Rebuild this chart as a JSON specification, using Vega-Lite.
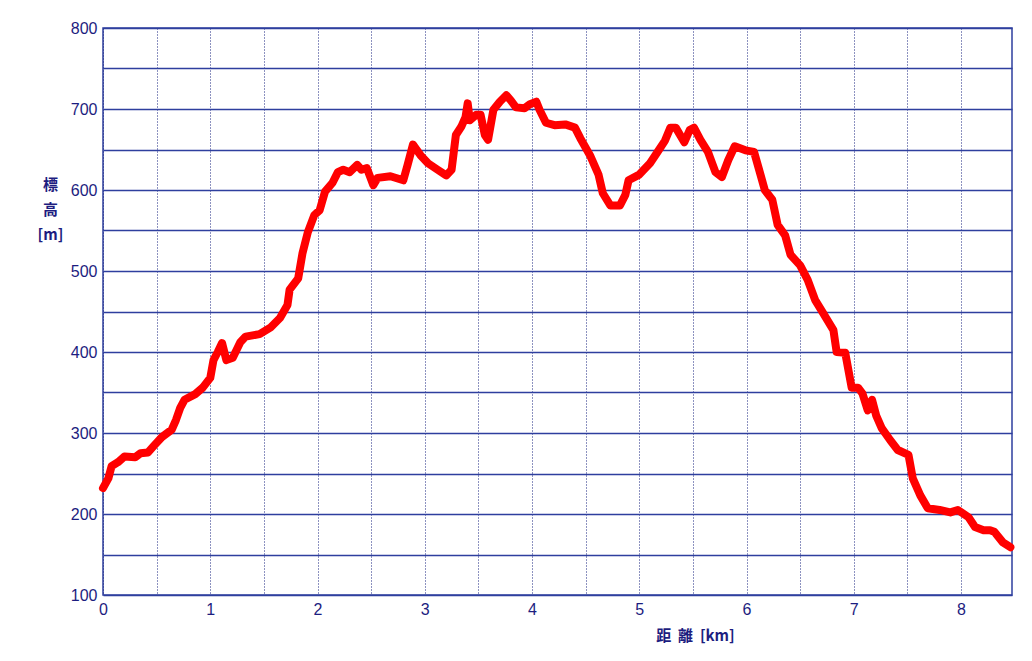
{
  "$schema": "https://vega.github.io/schema/vega-lite/v6.json",
  "width": 909,
  "height": 567,
  "autosize": {"type": "none"},
  "padding": {"left": 103, "top": 28, "right": 20, "bottom": 66},
  "background": "white",
  "config": {
    "view": {"stroke": "#2e3f9e", "strokeWidth": 1.5},
    "axis": {
      "labelFont": "Liberation Sans",
      "labelFontSize": 16,
      "labelColor": "#1d1d80",
      "titleColor": "#1d1d80",
      "titleFont": "Noto Sans CJK JP",
      "titleFontSize": 15,
      "titleFontWeight": "normal",
      "ticks": false,
      "domain": false,
      "gridColor": "#2e3f9e",
      "gridOpacity": 1
    }
  },
  "data": {
    "values": [
      {"d": 0.0, "e": 232}, {"d": 0.05, "e": 244}, {"d": 0.08, "e": 259}, {"d": 0.14, "e": 264},
      {"d": 0.2, "e": 271}, {"d": 0.3, "e": 270}, {"d": 0.35, "e": 275}, {"d": 0.42, "e": 276},
      {"d": 0.48, "e": 285}, {"d": 0.55, "e": 295}, {"d": 0.64, "e": 304}, {"d": 0.68, "e": 316},
      {"d": 0.72, "e": 331}, {"d": 0.76, "e": 341}, {"d": 0.86, "e": 348}, {"d": 0.93, "e": 356},
      {"d": 1.0, "e": 368}, {"d": 1.03, "e": 390}, {"d": 1.07, "e": 400}, {"d": 1.11, "e": 411},
      {"d": 1.15, "e": 390}, {"d": 1.21, "e": 393}, {"d": 1.28, "e": 412}, {"d": 1.33, "e": 419},
      {"d": 1.46, "e": 422}, {"d": 1.56, "e": 430}, {"d": 1.65, "e": 442}, {"d": 1.72, "e": 458},
      {"d": 1.74, "e": 477}, {"d": 1.82, "e": 491}, {"d": 1.86, "e": 522}, {"d": 1.91, "e": 548},
      {"d": 1.97, "e": 569}, {"d": 2.02, "e": 575}, {"d": 2.07, "e": 598}, {"d": 2.14, "e": 609},
      {"d": 2.19, "e": 622}, {"d": 2.24, "e": 625}, {"d": 2.3, "e": 622}, {"d": 2.37, "e": 631},
      {"d": 2.41, "e": 625}, {"d": 2.46, "e": 627}, {"d": 2.52, "e": 606}, {"d": 2.56, "e": 615},
      {"d": 2.68, "e": 617}, {"d": 2.8, "e": 612}, {"d": 2.84, "e": 631}, {"d": 2.89, "e": 656},
      {"d": 2.96, "e": 643}, {"d": 3.03, "e": 633}, {"d": 3.12, "e": 625}, {"d": 3.2, "e": 618},
      {"d": 3.25, "e": 625}, {"d": 3.29, "e": 668}, {"d": 3.34, "e": 678}, {"d": 3.38, "e": 690},
      {"d": 3.4, "e": 707}, {"d": 3.42, "e": 686}, {"d": 3.48, "e": 693}, {"d": 3.52, "e": 693},
      {"d": 3.56, "e": 668}, {"d": 3.59, "e": 662}, {"d": 3.64, "e": 699}, {"d": 3.7, "e": 709},
      {"d": 3.76, "e": 717}, {"d": 3.8, "e": 711}, {"d": 3.85, "e": 702}, {"d": 3.93, "e": 701},
      {"d": 3.98, "e": 706}, {"d": 4.04, "e": 709}, {"d": 4.07, "e": 699}, {"d": 4.13, "e": 683},
      {"d": 4.21, "e": 680}, {"d": 4.31, "e": 681}, {"d": 4.4, "e": 677}, {"d": 4.45, "e": 664},
      {"d": 4.54, "e": 643}, {"d": 4.62, "e": 619}, {"d": 4.66, "e": 596}, {"d": 4.73, "e": 581},
      {"d": 4.82, "e": 581}, {"d": 4.87, "e": 594}, {"d": 4.9, "e": 612}, {"d": 5.0, "e": 619},
      {"d": 5.1, "e": 633}, {"d": 5.17, "e": 647}, {"d": 5.24, "e": 661}, {"d": 5.29, "e": 677},
      {"d": 5.34, "e": 677}, {"d": 5.42, "e": 659}, {"d": 5.47, "e": 674}, {"d": 5.51, "e": 677},
      {"d": 5.57, "e": 662}, {"d": 5.64, "e": 647}, {"d": 5.71, "e": 622}, {"d": 5.77, "e": 616},
      {"d": 5.83, "e": 637}, {"d": 5.89, "e": 654}, {"d": 5.99, "e": 649}, {"d": 6.07, "e": 647},
      {"d": 6.13, "e": 619}, {"d": 6.17, "e": 600}, {"d": 6.24, "e": 588}, {"d": 6.29, "e": 557},
      {"d": 6.36, "e": 544}, {"d": 6.41, "e": 520}, {"d": 6.5, "e": 507}, {"d": 6.57, "e": 489},
      {"d": 6.64, "e": 464}, {"d": 6.71, "e": 449}, {"d": 6.81, "e": 427}, {"d": 6.84, "e": 400},
      {"d": 6.92, "e": 399}, {"d": 6.98, "e": 356}, {"d": 7.04, "e": 356}, {"d": 7.08, "e": 349},
      {"d": 7.13, "e": 328}, {"d": 7.17, "e": 341}, {"d": 7.21, "e": 321}, {"d": 7.26, "e": 306},
      {"d": 7.34, "e": 291}, {"d": 7.41, "e": 279}, {"d": 7.51, "e": 273}, {"d": 7.55, "e": 244},
      {"d": 7.62, "e": 223}, {"d": 7.69, "e": 207}, {"d": 7.8, "e": 205}, {"d": 7.9, "e": 202},
      {"d": 7.97, "e": 205}, {"d": 8.07, "e": 196}, {"d": 8.13, "e": 184}, {"d": 8.21, "e": 180},
      {"d": 8.27, "e": 180}, {"d": 8.31, "e": 178}, {"d": 8.39, "e": 165}, {"d": 8.46, "e": 159}
    ]
  },
  "mark": {"type": "line", "color": "#ff0000", "strokeWidth": 8, "strokeCap": "round", "strokeJoin": "round"},
  "encoding": {
    "x": {
      "field": "d", "type": "quantitative",
      "scale": {"domain": [0, 8.475], "nice": false, "zero": false},
      "axis": {
        "values": [0, 0.5, 1, 1.5, 2, 2.5, 3, 3.5, 4, 4.5, 5, 5.5, 6, 6.5, 7, 7.5, 8],
        "labelExpr": "datum.value % 1 == 0 ? format(datum.value, 'd') : ''",
        "labelPadding": 6,
        "labelFlush": false,
        "grid": true,
        "gridDash": [1, 2],
        "gridWidth": 1,
        "gridColor": "#1a2580",
        "title": "距\u00a0\u00a0離\u00a0\u00a0[km]",
        "titleX": 592,
        "titleY": 40,
        "titleAlign": "center",
        "titleBaseline": "middle",
        "titleFontWeight": "bold"
      }
    },
    "y": {
      "field": "e", "type": "quantitative",
      "scale": {"domain": [100, 800], "nice": false, "zero": false},
      "axis": {
        "values": [100, 150, 200, 250, 300, 350, 400, 450, 500, 550, 600, 650, 700, 750, 800],
        "labelExpr": "datum.value % 100 == 0 ? datum.label : ''",
        "labelPadding": 6,
        "labelFlush": false,
        "grid": true,
        "gridWidth": 1.4,
        "title": ["標", "高", "[m]"],
        "titleAngle": 0,
        "titleX": -53,
        "titleY": 156,
        "titleAlign": "center",
        "titleBaseline": "middle",
        "titleLineHeight": 25,
        "titleFontWeight": "bold"
      }
    }
  }
}
